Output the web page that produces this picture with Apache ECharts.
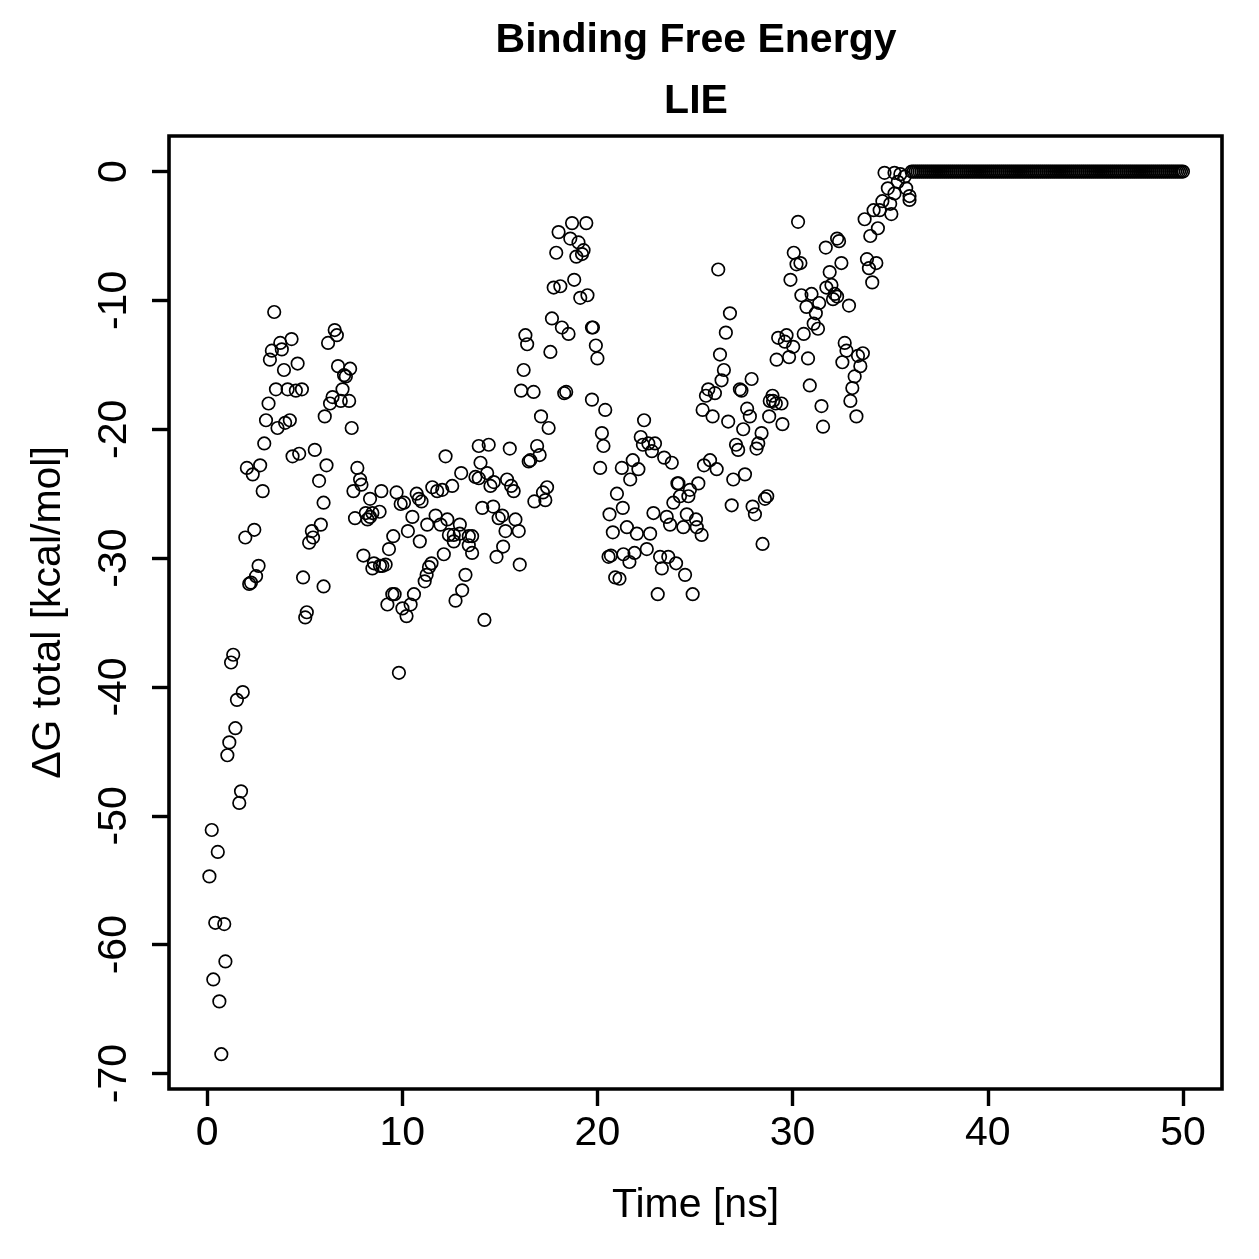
<!DOCTYPE html>
<html>
<head>
<meta charset="utf-8">
<title>Binding Free Energy - LIE</title>
<script src="https://cdn.jsdelivr.net/npm/echarts@6/dist/echarts.min.js"></script>
<style>
  html, body { margin: 0; padding: 0; background: #fff; }
  #chart { width: 1259px; height: 1259px; }
</style>
</head>
<body>
<div id="chart"></div>
<script>
// [time (ns), dG total (kcal/mol)], grouped by time window
var dgPhase1 = [ // ~0-2 ns, steep rise
  [1.34, -37.5], [1.23, -38.1], [1.83, -40.4], [1.53, -41.0], [1.45, -43.2], [1.14, -44.3],
  [1.04, -45.3], [1.74, -48.1], [1.65, -49.0], [0.24, -51.1], [0.55, -52.8], [0.12, -54.7],
  [0.42, -58.3], [0.88, -58.4], [0.94, -61.3], [0.32, -62.7], [0.63, -64.4], [0.73, -68.5]
]
var dgPhase2 = [ // ~2-6.5 ns
  [3.44, -10.9], [4.33, -13.0], [3.75, -13.3], [3.83, -13.8], [3.32, -13.9], [3.22, -14.6],
  [4.64, -14.9], [3.94, -15.4], [3.53, -16.9], [4.13, -16.9], [4.55, -17.0], [4.86, -16.9],
  [3.15, -18.0], [3.02, -19.3], [3.61, -19.9], [4.0, -19.5], [4.24, -19.3], [2.93, -21.1],
  [4.38, -22.1], [4.72, -21.9], [5.52, -21.6], [6.12, -22.8], [2.04, -23.0], [2.72, -22.8],
  [2.34, -23.5], [5.74, -24.0], [2.85, -24.8], [5.97, -25.7], [5.83, -27.4], [5.37, -27.9],
  [5.43, -28.4], [5.23, -28.8], [2.42, -27.8], [1.96, -28.4], [2.64, -30.6], [2.51, -31.4],
  [2.16, -32.0], [2.25, -31.9], [4.92, -31.5], [5.97, -32.2], [5.11, -34.2], [5.03, -34.6]
]
var dgPhase3 = [ // ~6-11 ns
  [6.54, -12.3], [6.65, -12.7], [6.2, -13.3], [6.71, -15.1], [7.33, -15.3], [7.02, -15.8],
  [7.11, -15.9], [6.94, -16.9], [6.43, -17.5], [6.3, -18.0], [6.85, -17.8], [7.28, -17.8],
  [6.03, -19.0], [7.41, -19.9], [7.7, -23.0], [7.84, -23.9], [7.91, -24.3], [7.5, -24.8],
  [8.93, -24.8], [8.35, -25.4], [9.71, -24.9], [9.92, -25.8], [10.09, -25.7], [10.74, -25.0],
  [10.85, -25.4], [10.99, -25.6], [7.58, -26.9], [8.13, -26.5], [8.47, -26.5], [8.22, -27.0],
  [8.35, -26.8], [8.84, -26.4], [10.52, -26.8], [9.54, -28.3], [10.29, -27.9], [9.32, -29.3],
  [10.9, -28.7], [8.01, -29.8], [8.55, -30.4], [8.47, -30.8], [8.86, -30.6], [9.15, -30.5],
  [8.98, -30.6], [11.5, -30.4], [11.37, -30.7], [11.25, -31.3], [11.15, -31.8], [9.49, -32.8],
  [9.24, -33.6], [9.61, -32.8], [10.6, -32.8], [10.43, -33.6], [10.01, -33.9], [10.22, -34.5],
  [9.83, -38.9]
]
var dgPhase4 = [ // ~11-15 ns
  [12.22, -22.1], [13.92, -21.3], [14.43, -21.2], [14.01, -22.6], [13.02, -23.4], [14.35, -23.4],
  [13.75, -23.7], [13.92, -23.8], [14.69, -24.1], [14.52, -24.4], [11.54, -24.5], [11.79, -24.8],
  [12.05, -24.7], [12.56, -24.4], [14.1, -26.1], [14.66, -26.0], [14.94, -26.9], [15.12, -26.7],
  [11.71, -26.7], [11.28, -27.4], [11.96, -27.4], [12.31, -27.0], [12.95, -27.4], [12.39, -28.2],
  [12.64, -28.2], [12.64, -28.7], [12.95, -28.1], [13.41, -28.3], [13.58, -28.3], [13.41, -29.0],
  [13.58, -29.6], [14.83, -29.9], [12.13, -29.7], [13.24, -31.3], [13.07, -32.5], [12.73, -33.3],
  [14.21, -34.8]
]
var dgPhase5 = [ // ~15-20 ns
  [18.7, -4.0], [19.43, -4.0], [18.01, -4.7], [18.61, -5.2], [19.03, -5.5], [19.29, -6.1],
  [18.92, -6.6], [19.21, -6.4], [17.89, -6.3], [18.81, -8.4], [17.76, -9.0], [18.1, -8.9],
  [19.12, -9.8], [19.49, -9.6], [17.67, -11.4], [18.18, -12.1], [18.52, -12.6], [19.72, -12.1],
  [19.77, -12.1], [16.31, -12.7], [16.4, -13.4], [17.59, -14.0], [19.92, -13.5], [20.0, -14.5],
  [16.22, -15.4], [16.09, -17.0], [16.73, -17.1], [18.3, -17.2], [18.4, -17.1], [17.11, -19.0],
  [17.5, -19.9], [15.51, -21.5], [16.91, -21.3], [17.04, -22.0], [16.56, -22.4], [16.48, -22.5],
  [15.37, -23.9], [15.58, -24.4], [15.71, -24.8], [17.42, -24.5], [17.21, -24.9], [17.33, -25.5],
  [16.77, -25.6], [15.8, -27.0], [15.97, -27.9], [15.29, -27.9], [15.17, -29.1], [16.02, -30.5]
]
var dgPhase6 = [ // ~20-25 ns
  [19.72, -17.7], [20.4, -18.5], [22.39, -19.3], [20.23, -20.3], [20.31, -21.3], [22.22, -20.6],
  [22.33, -21.2], [22.61, -21.1], [22.95, -21.1], [22.79, -21.7], [23.42, -22.2], [23.81, -22.6],
  [20.14, -23.0], [21.81, -22.4], [21.25, -23.0], [22.1, -23.1], [21.68, -23.9], [24.15, -24.2],
  [24.1, -24.2], [21.0, -25.0], [24.74, -24.7], [24.23, -25.2], [24.66, -25.2], [23.89, -25.7],
  [21.3, -26.1], [20.62, -26.6], [22.87, -26.5], [23.55, -26.8], [23.72, -27.4], [24.58, -26.6],
  [24.4, -27.6], [20.79, -28.0], [21.51, -27.6], [22.02, -28.1], [22.7, -28.1], [22.53, -29.3],
  [20.57, -29.9], [20.69, -29.8], [21.33, -29.7], [21.9, -29.6], [21.64, -30.3], [23.21, -29.9],
  [23.63, -29.9], [24.03, -30.4], [23.3, -30.8], [20.91, -31.5], [21.13, -31.6], [24.49, -31.3],
  [23.09, -32.8], [24.88, -32.8]
]
var dgPhase7 = [ // ~25-29.5 ns
  [26.19, -7.6], [26.79, -11.0], [26.58, -12.5], [29.26, -12.9], [26.28, -14.2], [29.18, -14.6],
  [26.48, -15.4], [26.36, -16.2], [27.9, -16.1], [27.3, -16.9], [27.38, -17.0], [25.68, -16.9],
  [26.02, -17.2], [25.56, -17.4], [28.97, -17.4], [29.0, -17.8], [29.14, -18.0], [29.43, -18.0],
  [28.83, -17.8], [25.39, -18.5], [25.9, -19.0], [26.7, -19.4], [27.67, -18.4], [27.81, -19.0],
  [27.47, -20.0], [28.8, -19.0], [29.48, -19.6], [28.41, -20.3], [28.24, -21.1], [28.15, -21.5],
  [27.1, -21.2], [27.21, -21.6], [25.77, -22.4], [25.46, -22.8], [26.11, -23.1], [27.56, -23.5],
  [26.96, -23.9], [25.17, -24.2], [28.7, -25.2], [28.58, -25.4], [26.88, -25.9], [27.95, -26.0],
  [28.07, -26.6], [25.05, -27.0], [25.09, -27.6], [25.34, -28.2], [28.46, -28.9]
]
var dgPhase8 = [ // ~29.5-36 ns, approach to zero
  [34.71, -0.1], [35.22, -0.1], [35.52, -0.2], [35.74, -0.4], [35.39, -0.8], [35.82, -1.3],
  [35.99, -1.9], [35.99, -2.2], [34.88, -1.3], [35.22, -1.7], [34.6, -2.3], [35.0, -2.5],
  [34.46, -3.0], [34.15, -3.0], [35.06, -3.3], [33.69, -3.7], [34.37, -4.4], [33.98, -5.0],
  [30.28, -3.9], [32.28, -5.2], [32.38, -5.4], [31.7, -5.9], [30.06, -6.3], [30.2, -7.2],
  [30.4, -7.1], [32.5, -7.1], [33.81, -6.8], [34.29, -7.1], [33.91, -7.5], [34.08, -8.6],
  [31.9, -7.8], [29.89, -8.4], [31.73, -9.0], [31.99, -8.8], [32.16, -9.5], [32.28, -9.7],
  [32.07, -9.9], [30.45, -9.6], [30.97, -9.5], [30.71, -10.5], [31.36, -10.2], [31.19, -11.0],
  [32.89, -10.4], [31.08, -11.8], [31.3, -12.2], [30.57, -12.6], [29.69, -12.7], [29.6, -13.2],
  [30.03, -13.6], [29.82, -14.4], [32.67, -13.3], [32.76, -13.9], [32.55, -14.8], [33.35, -14.3],
  [33.6, -14.1], [33.47, -15.1], [33.18, -15.9], [33.06, -16.8], [32.96, -17.8], [33.27, -19.0],
  [30.79, -14.5], [30.88, -16.6], [31.48, -18.2], [31.56, -19.8]
]
// times (ns) where dG total sits at 0 (ligand unbound)
var plateauTimes = [
  36.1, 36.2, 36.3, 36.4, 36.5, 36.6, 36.7, 36.8, 36.9, 37.0,
  37.1, 37.2, 37.3, 37.4, 37.5, 37.6, 37.7, 37.8, 37.9, 38.0,
  38.1, 38.2, 38.3, 38.4, 38.5, 38.6, 38.7, 38.8, 38.9, 39.0,
  39.1, 39.2, 39.3, 39.4, 39.5, 39.6, 39.7, 39.8, 39.9, 40.0,
  40.1, 40.2, 40.3, 40.4, 40.5, 40.6, 40.7, 40.8, 40.9, 41.0,
  41.1, 41.2, 41.3, 41.4, 41.5, 41.6, 41.7, 41.8, 41.9, 42.0,
  42.1, 42.2, 42.3, 42.4, 42.5, 42.6, 42.7, 42.8, 42.9, 43.0,
  43.1, 43.2, 43.3, 43.4, 43.5, 43.6, 43.7, 43.8, 43.9, 44.0,
  44.1, 44.2, 44.3, 44.4, 44.5, 44.6, 44.7, 44.8, 44.9, 45.0,
  45.1, 45.2, 45.3, 45.4, 45.5, 45.6, 45.7, 45.8, 45.9, 46.0,
  46.1, 46.2, 46.3, 46.4, 46.5, 46.6, 46.7, 46.8, 46.9, 47.0,
  47.1, 47.2, 47.3, 47.4, 47.5, 47.6, 47.7, 47.8, 47.9, 48.0,
  48.1, 48.2, 48.3, 48.4, 48.5, 48.6, 48.7, 48.8, 48.9, 49.0,
  49.1, 49.2, 49.3, 49.4, 49.5, 49.6, 49.7, 49.8, 49.9, 50.0
]
var xTicks = [0, 10, 20, 30, 40, 50]
var yTicks = [-70, -60, -50, -40, -30, -20, -10, 0]

var font = 'Liberation Sans, Arial, Helvetica, sans-serif'

var points = [].concat(dgPhase1, dgPhase2, dgPhase3, dgPhase4,
  dgPhase5, dgPhase6, dgPhase7, dgPhase8)
plateauTimes.forEach(function (t) { points.push([t, 0]) })

var chart = echarts.init(document.getElementById('chart'))
chart.setOption({
  backgroundColor: '#fff',
  animation: false,
  title: {
    text: 'Binding Free Energy\nLIE',
    left: 696,
    top: 10,
    padding: 0,
    textAlign: 'center',
    textStyle: {
      fontFamily: font,
      fontWeight: 'bold',
      fontSize: 41,
      lineHeight: 61,
      color: '#000'
    }
  },
  grid: {
    left: 169,
    top: 136,
    right: 37,
    bottom: 170,
    show: true,
    borderColor: '#000',
    borderWidth: 3.6,
    backgroundColor: 'transparent',
    outerBoundsMode: 'none'
  },
  xAxis: {
    type: 'value',
    min: -1.95,
    max: 52.0,
    name: 'Time [ns]',
    nameLocation: 'middle',
    nameGap: 96,
    nameTextStyle: { fontFamily: font, fontSize: 41, color: '#000' },
    axisLine: { show: false, onZero: false },
    splitLine: { show: false },
    axisTick: {
      show: true,
      customValues: xTicks,
      length: 17,
      lineStyle: { color: '#000', width: 3.4 }
    },
    axisLabel: {
      customValues: xTicks,
      margin: 24,
      fontFamily: font,
      fontSize: 41,
      color: '#000'
    }
  },
  yAxis: {
    type: 'value',
    min: -71.2,
    max: 2.76,
    name: 'ΔG total [kcal/mol]',
    nameLocation: 'middle',
    nameGap: 100,
    nameTextStyle: { fontFamily: font, fontSize: 41, color: '#000' },
    axisLine: { show: false, onZero: false },
    splitLine: { show: false },
    axisTick: {
      show: true,
      customValues: yTicks,
      length: 17,
      lineStyle: { color: '#000', width: 3.4 }
    },
    axisLabel: {
      customValues: yTicks,
      rotate: 90,
      margin: 34,
      fontFamily: font,
      fontSize: 41,
      color: '#000'
    }
  },
  series: [{
    type: 'scatter',
    data: points,
    symbol: 'circle',
    symbolSize: 12.5,
    itemStyle: {
      color: 'rgba(0,0,0,0)',
      borderColor: '#000',
      borderWidth: 1.7,
      opacity: 1
    },
    emphasis: { disabled: true },
    clip: false
  }]
})
</script>
</body>
</html>
